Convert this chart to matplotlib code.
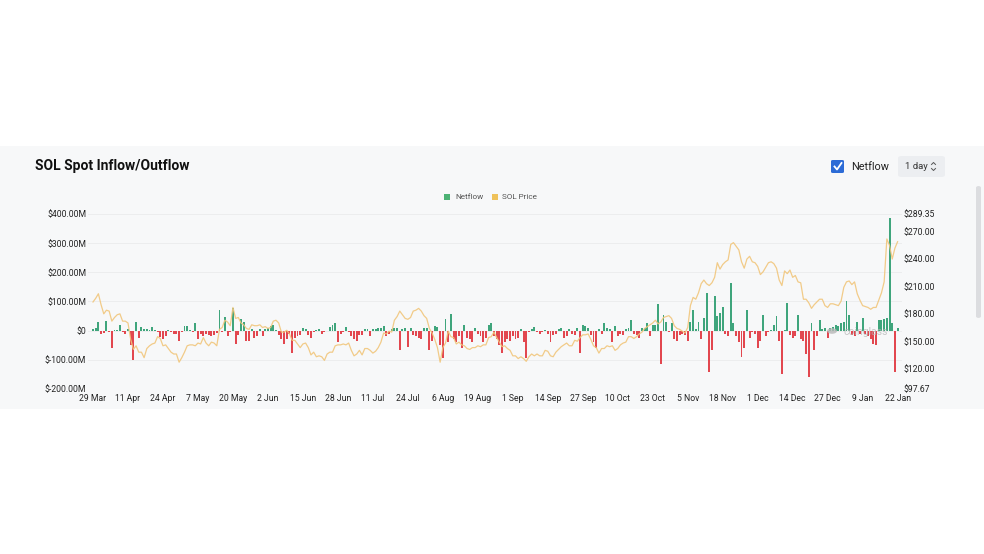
import matplotlib
matplotlib.use('Agg')
import matplotlib.pyplot as plt
from matplotlib.patches import Rectangle, FancyBboxPatch
from matplotlib.lines import Line2D
import numpy as np

plt.rcParams['font.family'] = ['Roboto', 'DejaVu Sans']

# ---------------- data (daily, 29 Mar 2024 -> 22 Jan 2025) ----------------
# Netflow in $M
netflow = [
    6, 10, 28, -10, -8, 32, -5, -60, 2, 3, 18, -4, -12, 4, -50, -100, 28, -25, 12, 5,
    6, 2, 12, 3, -5, -22, -30, -18, 3, -5, -10, -10, -35, -5, 15, 15, 3, -5, 25, -30,
    -12, -18, -10, -15, -20, -14, -8, 72, -5, 46, -20, -5, 78, -45, -15, 40, 30, -35, -35, 5,
    -25, -20, 4, -20, 4, 10, 15, 20, 3, -15, -30, -45, -30, -10, -75, -25, -20, -15, 8, 5,
    -15, -25, -3, 2, 5, -10, -3, -2, 12, 20, 25, -40, -12, -3, 12, -5, -20, -30, -35, -15,
    -15, 5, 5, -20, 5, 5, 8, 10, 15, -20, -10, 5, 8, 10, -65, 5, 10, -55, 10, -15,
    -20, -25, -30, 8, 10, -65, -35, 15, 12, -50, -95, 40, -40, 58, -30, -40, -20, -60, 20, -25,
    -30, -40, 10, -10, -20, -40, -25, 20, 25, -20, -30, -50, -75, -40, -30, -35, -20, -30, -25, 5,
    -40, -95, -3, 5, 12, -5, -10, -5, 3, -10, -40, -15, -10, 5, 10, -25, -20, 5, -10, -15,
    10, -75, 20, 15, 10, -15, -40, -60, 5, -10, 25, 10, 5, -40, 15, -20, -10, -15, 5, 10,
    35, -10, -15, -25, 10, 10, 25, -20, 20, 20, 90, -115, 55, 30, -5, 25, -30, -35, -15, -10,
    -15, -35, 30, 70, 5, 30, -30, 45, 130, -140, -65, 120, 50, 60, 80, -10, -20, 165, 25, -20,
    -40, -90, -60, 70, -25, -5, -10, -60, -35, 55, -20, -5, 3, 20, 50, -35, -150, 3, 95, -15,
    -25, -20, 55, -30, -35, -80, -160, 25, -65, -20, 35, 5, 8, -25, 10, 12, 20, 15, 25, 30,
    100, 55, -15, -20, 30, -10, 45, -10, -20, -30, -45, -50, 35, 35, 40, 45, 385, 25, -140, 10,
]

# SOL price in $
price = [
    193, 197, 202,
    190, 180, 184, 183, 172, 176, 179, 180, 172, 172, 170, 152, 141, 145, 138, 138, 132, 142,
    145, 147, 148, 155, 153, 145, 146, 142, 138, 136, 136, 127,
    132, 138, 145, 146, 146, 145, 148, 147, 154, 148, 145, 149, 148, 145, 163, 165, 173, 171,
    167, 187, 175, 176, 170, 168, 164, 163, 168, 167, 167, 168, 165,
    166, 164, 165, 172, 173, 170, 160, 160, 162, 158, 151, 151, 147, 143, 147, 148, 143, 135,
    138, 133, 134, 133, 129, 136, 138, 138, 145, 146, 146, 147,
    146, 148, 140, 134, 136, 140, 135, 142, 142, 140, 137, 139, 143, 149, 159, 158, 161, 160,
    173, 177, 183, 179, 175, 174, 176, 183, 184, 186, 183, 178, 175,
    164, 159, 152, 143, 127, 143, 148, 161, 155, 154, 147, 149, 146, 145, 142, 141, 143, 143,
    145, 144, 146, 146, 154, 155, 160, 154, 149, 144, 145, 142, 140,
    134, 134, 131, 133, 131, 128, 133, 136, 134, 136, 134, 134, 140, 139, 134, 133, 138, 141,
    144, 146, 148, 145, 145, 151, 150, 154, 157, 157, 158, 152,
    145, 143, 137, 142, 142, 145, 144, 145, 140, 142, 146, 148, 149, 155, 155, 153, 155, 158,
    160, 164, 166, 168, 170, 173, 169, 171, 176, 177, 178, 175, 167,
    164, 163, 161, 159, 165, 189, 198, 196, 203, 213, 217, 213, 211, 214, 220, 236, 229, 234,
    237, 239, 256, 258, 254, 250, 237, 230, 240, 243, 237, 236,
    232, 223, 226, 231, 236, 237, 235, 230, 217, 211, 227, 224, 228, 220, 222, 215, 214, 196,
    196, 192, 186, 190, 193, 196, 196, 189, 187, 191, 191, 190, 189,
    194, 209, 215, 216, 212, 215, 202, 195, 189, 188, 187, 185, 187, 187, 195, 203, 215, 262,
    255, 240, 252, 259,
]

x_tick_labels = ['29 Mar', '11 Apr', '24 Apr', '7 May', '20 May', '2 Jun', '15 Jun', '28 Jun',
                 '11 Jul', '24 Jul', '6 Aug', '19 Aug', '1 Sep', '14 Sep', '27 Sep', '10 Oct',
                 '23 Oct', '5 Nov', '18 Nov', '1 Dec', '14 Dec', '27 Dec', '9 Jan', '22 Jan']
x_tick_step = 13
left_ticks = [-200, -100, 0, 100, 200, 300, 400]
left_labels = ['$-200.00M', '$-100.00M', '$0', '$100.00M', '$200.00M', '$300.00M', '$400.00M']
right_ticks = [97.67, 120, 150, 180, 210, 240, 270, 289.35]

GREEN = '#3fa57c'
RED = '#e2474f'
GOLD = '#f1c67c'

W, H = 984, 554
fig = plt.figure(figsize=(W / 100, H / 100), dpi=100)
fig.patch.set_facecolor('white')


def fx(px):
    return px / W


def fy(py):
    return 1 - py / H


# panel background
fig.patches.append(Rectangle((0, fy(409)), 1, (409 - 146) / H, transform=fig.transFigure,
                             facecolor='#f7f8f9', edgecolor='none', zorder=-5))
# scrollbar
fig.patches.append(FancyBboxPatch((fx(976), fy(318)), 5 / W, (318 - 186) / H,
                                  boxstyle='round,pad=0,rounding_size=0.003',
                                  transform=fig.transFigure, facecolor='#dcdde0',
                                  edgecolor='none', zorder=1))

# title
fig.text(fx(35), fy(166), 'SOL Spot Inflow/Outflow', fontsize=10, fontweight='bold',
         color='#111111', va='center', ha='left')

# checkbox + Netflow
fig.patches.append(FancyBboxPatch((fx(831), fy(173)), 13 / W, 13 / H,
                                  boxstyle='round,pad=0,rounding_size=0.002',
                                  transform=fig.transFigure, facecolor='#2c6bd6',
                                  edgecolor='none', zorder=2))
fig.lines.append(Line2D([fx(834.5), fx(837), fx(841.5)], [fy(166.5), fy(169.5), fy(163)],
                        transform=fig.transFigure, color='white', lw=1.3, zorder=3))
fig.text(fx(851), fy(166.5), 'Netflow', fontsize=7.8, color='#222222', va='center', ha='left')

# interval button
fig.patches.append(FancyBboxPatch((fx(898), fy(177)), 47 / W, 21 / H,
                                  boxstyle='round,pad=0,rounding_size=0.004',
                                  transform=fig.transFigure, facecolor='#eceef1',
                                  edgecolor='none', zorder=2))
fig.text(fx(905), fy(166.5), '1 day', fontsize=6.8, color='#333333', va='center', ha='left')
fig.lines.append(Line2D([fx(931.5), fx(933.5), fx(935.5)], [fy(164.5), fy(162.5), fy(164.5)],
                        transform=fig.transFigure, color='#555555', lw=0.7, zorder=3))
fig.lines.append(Line2D([fx(931.5), fx(933.5), fx(935.5)], [fy(168.5), fy(170.5), fy(168.5)],
                        transform=fig.transFigure, color='#555555', lw=0.7, zorder=3))

# legend (manual)
fig.patches.append(Rectangle((fx(444), fy(200)), 6 / W, 6 / H, transform=fig.transFigure,
                             facecolor='#4cb274', edgecolor='none', zorder=2))
fig.text(fx(455), fy(197), 'Netflow', fontsize=5.9, color='#555555', va='center', ha='left')
fig.patches.append(Rectangle((fx(492), fy(200)), 6 / W, 6 / H, transform=fig.transFigure,
                             facecolor='#efc25a', edgecolor='none', zorder=2))
fig.text(fx(502), fy(197), 'SOL Price', fontsize=5.9, color='#555555', va='center', ha='left')

# ---------------- main chart ----------------
n = len(netflow)
xs = np.arange(n)
px_per_day = 2.691
x0_px = 93.0
left_px, right_px = 88, 902
ax = fig.add_axes([fx(left_px), fy(389), (right_px - left_px) / W, 175 / H])
ax.set_zorder(1)
ax.set_facecolor('none')
colors = [GREEN if v >= 0 else RED for v in netflow]
ax.bar(xs, netflow, width=0.72, color=colors, zorder=2)
ax.set_xlim((left_px - x0_px) / px_per_day, (right_px - x0_px) / px_per_day)
ax.set_ylim(-200, 400)
ax.set_yticks(left_ticks)
ax.set_yticklabels(left_labels)
ax.set_xticks(xs[::x_tick_step])
ax.set_xticklabels(x_tick_labels)
ax.grid(axis='y', color='#ebebed', lw=0.6, zorder=0)
ax.set_axisbelow(True)
for s in ax.spines.values():
    s.set_visible(False)
ax.tick_params(axis='y', length=0, labelsize=6.2, colors='#222222', pad=1.2)
ax.tick_params(axis='x', length=0, labelsize=6.2, colors='#222222', pad=3.5)

ax2 = ax.twinx()
ax2.set_zorder(2)
ax2.patch.set_visible(False)
ax2.plot(xs, price, color=GOLD, lw=0.9, alpha=0.9, zorder=3)
ax2.set_ylim(97.67, 289.35)
ax2.set_yticks(right_ticks)
ax2.set_yticklabels([f'${v:.2f}' for v in right_ticks])
for s in ax2.spines.values():
    s.set_visible(False)
ax2.tick_params(axis='y', length=0, labelsize=6.2, colors='#222222', pad=1.0)

# watermark
fig.patches.append(plt.Circle((fx(832), fy(331)), 5 / W, transform=fig.transFigure,
                              facecolor='#b8b8b8', edgecolor='none', alpha=0.8, zorder=5))
fig.text(fx(843), fy(332), 'coinglass', fontsize=7.5, color='#b5b5b5', alpha=0.75,
         va='center', ha='left', zorder=5)

fig.savefig('out.png', dpi=100, facecolor='white')
